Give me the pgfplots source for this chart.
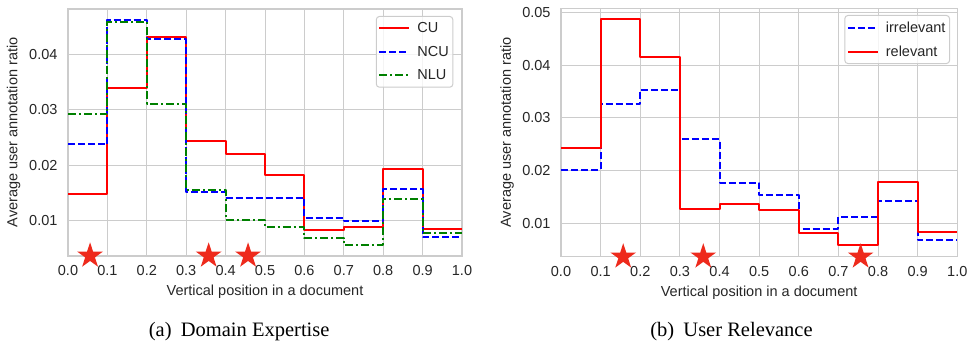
\documentclass[border=0pt]{standalone}
\usepackage{fontspec}
\setmainfont{Liberation Sans}
\newfontfamily\capfont{Liberation Serif}
\usepackage{pgfplots}
\pgfplotsset{compat=1.18}
\definecolor{gridc}{HTML}{CCCCCC}
\definecolor{starc}{HTML}{EE2A1C}
\definecolor{txt}{HTML}{262626}
\definecolor{mplgreen}{HTML}{008000}
\pgfdeclareplotmark{fstar}{%
  \pgfpathmoveto{\pgfpointpolar{90}{\pgfplotmarksize}}%
  \pgfpathlineto{\pgfpointpolar{126}{0.382\pgfplotmarksize}}%
  \pgfpathlineto{\pgfpointpolar{162}{\pgfplotmarksize}}%
  \pgfpathlineto{\pgfpointpolar{198}{0.382\pgfplotmarksize}}%
  \pgfpathlineto{\pgfpointpolar{234}{\pgfplotmarksize}}%
  \pgfpathlineto{\pgfpointpolar{270}{0.382\pgfplotmarksize}}%
  \pgfpathlineto{\pgfpointpolar{306}{\pgfplotmarksize}}%
  \pgfpathlineto{\pgfpointpolar{342}{0.382\pgfplotmarksize}}%
  \pgfpathlineto{\pgfpointpolar{18}{\pgfplotmarksize}}%
  \pgfpathlineto{\pgfpointpolar{54}{0.382\pgfplotmarksize}}%
  \pgfpathclose
  \pgfusepathqfill
}
\newcommand{\lbl}{\fontsize{14.5}{17}\selectfont}
\pgfplotsset{
  myax/.style={
    scale only axis,
    xmin=0, xmax=1,
    xtick={0,0.1,0.2,0.3,0.4,0.5,0.6,0.7,0.8,0.9,1.0},
    grid=major,
    major grid style={draw=gridc, line width=1pt},
    axis line style={draw=gridc, line width=1.5pt},
    major tick length=0pt,
    tick label style={font=\lbl, text=txt},
    xticklabel style={/pgf/number format/fixed, /pgf/number format/fixed zerofill, /pgf/number format/precision=1, yshift=-6pt},
    yticklabel style={/pgf/number format/fixed, /pgf/number format/fixed zerofill, /pgf/number format/precision=2, xshift=-7pt},
    scaled y ticks=false,
    /pgf/number format/assume math mode=true,
    clip=false,
    legend cell align=left,
    legend style={font=\lbl, text=txt, draw=gridc, rounded corners=3pt, fill=white, fill opacity=0.8, text opacity=1, line width=1pt, row sep=8pt, inner xsep=2pt, inner ysep=4pt,
      /tikz/every odd column/.style={column sep=5pt}},
    legend image code/.code={\draw[##1] (0pt,0pt) -- (30pt,0pt);},
    every axis plot/.append style={line width=2pt, line join=round},
    xlabel={Vertical position in a document},
    ylabel={Average user annotation ratio},
    every axis x label/.style={at={(axis description cs:0.5,-0.1457)}, anchor=center, font=\lbl, text=txt},
  },
  redl/.style={red, solid},
  bluel/.style={blue, dash pattern=on 7pt off 3pt},
  greenl/.style={mplgreen, dash pattern=on 8pt off 3pt on 2pt off 3pt},
  starp/.style={only marks, mark=fstar, mark size=13.5pt, color=starc, line width=0.4pt, forget plot},
}
\begin{document}
\begin{tikzpicture}
\path[use as bounding box] (0,0) rectangle (973pt,345pt);
% (a) Domain Expertise
\begin{axis}[myax,
  at={(68pt,89.2pt)}, anchor=south west,
  width=394pt, height=246.8pt,
  ymin=0.00368, ymax=0.04817,
  ytick={0.01,0.02,0.03,0.04},
  every axis y label/.style={at={(axis description cs:-0.1383,0.5)}, rotate=90, anchor=center, font=\lbl, text=txt},
  legend style={at={(1,1)}, anchor=north east, xshift=-8.7pt, yshift=-7pt},
]
\addplot[redl, const plot] coordinates {(0,0.0148) (0.1,0.0339) (0.2,0.0432) (0.3,0.0243) (0.4,0.0220) (0.5,0.0183) (0.6,0.00835) (0.7,0.0089) (0.8,0.0193) (0.9,0.00853) (1.0,0.00853)};
\addlegendentry{CU}
\addplot[bluel, const plot] coordinates {(0,0.0238) (0.1,0.0462) (0.2,0.0427) (0.3,0.0151) (0.4,0.0141) (0.5,0.0141) (0.6,0.0105) (0.7,0.0099) (0.8,0.0157) (0.9,0.0071) (1.0,0.0071)};
\addlegendentry{NCU}
\addplot[greenl, const plot] coordinates {(0,0.0292) (0.1,0.0458) (0.2,0.0311) (0.3,0.0155) (0.4,0.0101) (0.5,0.0088) (0.6,0.0069) (0.7,0.0056) (0.8,0.0140) (0.9,0.0077) (1.0,0.0077)};
\addlegendentry{NLU}
\addplot[starp] coordinates {(0.056,0.00368) (0.357,0.00368) (0.457,0.00368)};
\end{axis}
% (b) User Relevance
\begin{axis}[myax,
  at={(561pt,88.3pt)}, anchor=south west,
  width=396.3pt, height=248.4pt,
  ymin=0.00367, ymax=0.05076,
  ytick={0.01,0.02,0.03,0.04,0.05},
  every axis y label/.style={at={(axis description cs:-0.136,0.5)}, rotate=90, anchor=center, font=\lbl, text=txt},
  legend style={at={(1,1)}, anchor=north east, xshift=-7.3pt, yshift=-6.7pt},
]
\addplot[bluel, const plot] coordinates {(0,0.0202) (0.1,0.0326) (0.2,0.0353) (0.3,0.0259) (0.4,0.0177) (0.5,0.0154) (0.6,0.0090) (0.7,0.0112) (0.8,0.0142) (0.9,0.0068) (1.0,0.0068)};
\addlegendentry{irrelevant}
\addplot[redl, const plot] coordinates {(0,0.0243) (0.1,0.0487) (0.2,0.0416) (0.3,0.0127) (0.4,0.0137) (0.5,0.0126) (0.6,0.0082) (0.7,0.0059) (0.8,0.0178) (0.9,0.0084) (1.0,0.0084)};
\addlegendentry{relevant}
\addplot[starp] coordinates {(0.157,0.00367) (0.359,0.00367) (0.756,0.00367)};
\end{axis}
\node[font=\capfont\fontsize{20.5}{24}\selectfont, anchor=base] at (239.2pt,9pt) {(a)\hspace{0.45em}Domain Expertise};
\node[font=\capfont\fontsize{20.5}{24}\selectfont, anchor=base] at (731.5pt,9pt) {(b)\hspace{0.45em}User Relevance};
\end{tikzpicture}
\end{document}
